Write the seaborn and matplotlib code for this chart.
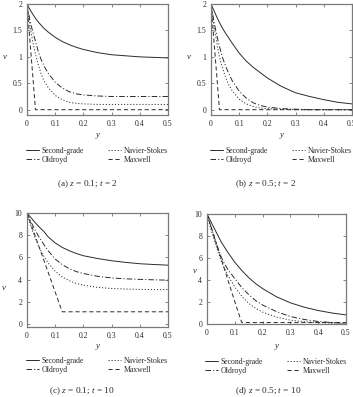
import numpy as np
import pandas as pd
import matplotlib
matplotlib.use('Agg')
import matplotlib.pyplot as plt
import seaborn as sns

# y positions shared by every curve
y_pos = [0, 0.005, 0.01, 0.02, 0.03, 0.04, 0.05, 0.06, 0.075, 0.1,
         0.125, 0.15, 0.175, 0.2, 0.25, 0.3, 0.35, 0.4, 0.45, 0.5]

# (a) z = 0.1; t = 2
a_second = [2.0, 1.95, 1.9, 1.81, 1.73, 1.66, 1.6, 1.54, 1.47, 1.37,
            1.29, 1.23, 1.18, 1.14, 1.08, 1.04, 1.02, 1.0, 0.99, 0.98]
a_oldroyd = [2.0, 1.85, 1.7, 1.48, 1.3, 1.1, 0.95, 0.83, 0.69, 0.52,
             0.41, 0.34, 0.3, 0.28, 0.26, 0.25, 0.25, 0.25, 0.25, 0.25]
a_navier = [2.0, 1.8, 1.6, 1.3, 1.05, 0.85, 0.68, 0.55, 0.42, 0.27,
            0.19, 0.14, 0.12, 0.11, 0.1, 0.1, 0.1, 0.1, 0.1, 0.1]
a_maxwell = [2.0, 1.67, 1.33, 0.67, 0.0, 0.0, 0.0, 0.0, 0.0, 0.0,
             0.0, 0.0, 0.0, 0.0, 0.0, 0.0, 0.0, 0.0, 0.0, 0.0]

# (b) z = 0.5; t = 2
b_second = [2.0, 1.94, 1.88, 1.76, 1.65, 1.55, 1.46, 1.38, 1.26, 1.07,
            0.92, 0.8, 0.7, 0.6, 0.44, 0.32, 0.25, 0.19, 0.14, 0.11]
b_oldroyd = [2.0, 1.85, 1.68, 1.42, 1.2, 1.0, 0.85, 0.72, 0.55, 0.35,
             0.22, 0.13, 0.08, 0.05, 0.02, 0.01, 0.0, 0.0, 0.0, 0.0]
b_navier = [2.0, 1.8, 1.6, 1.28, 1.0, 0.8, 0.64, 0.5, 0.36, 0.2,
            0.11, 0.06, 0.03, 0.02, 0.01, 0.0, 0.0, 0.0, 0.0, 0.0]
b_maxwell = [2.0, 1.67, 1.33, 0.67, 0.0, 0.0, 0.0, 0.0, 0.0, 0.0,
             0.0, 0.0, 0.0, 0.0, 0.0, 0.0, 0.0, 0.0, 0.0, 0.0]

# (c) z = 0.1; t = 10
c_second = [10.0, 9.85, 9.7, 9.4, 9.1, 8.83, 8.57, 8.33, 7.85, 7.3,
            6.9, 6.6, 6.35, 6.15, 5.9, 5.7, 5.55, 5.43, 5.36, 5.3]
c_oldroyd = [10.0, 9.7, 9.4, 8.9, 8.4, 7.95, 7.55, 7.15, 6.6, 5.85,
             5.35, 4.98, 4.72, 4.55, 4.3, 4.15, 4.07, 4.02, 3.98, 3.95]
c_navier = [10.0, 9.55, 9.1, 8.35, 7.7, 7.1, 6.55, 6.1, 5.5, 4.75,
            4.25, 3.9, 3.65, 3.5, 3.3, 3.2, 3.15, 3.12, 3.1, 3.1]
c_maxwell = [10.0, 9.64, 9.29, 8.58, 7.86, 7.15, 6.44, 5.73, 4.66, 2.88,
             1.1, 1.1, 1.1, 1.1, 1.1, 1.1, 1.1, 1.1, 1.1, 1.1]

# (d) z = 0.5; t = 10
d_second = [10.0, 9.75, 9.5, 9.0, 8.5, 8.0, 7.5, 7.1, 6.5, 5.6,
            4.85, 4.2, 3.65, 3.2, 2.45, 1.9, 1.5, 1.2, 0.97, 0.8]
d_oldroyd = [10.0, 9.6, 9.2, 8.4, 7.6, 6.85, 6.15, 5.6, 4.95, 4.1,
             3.3, 2.65, 2.1, 1.7, 1.1, 0.65, 0.38, 0.2, 0.1, 0.05]
d_navier = [10.0, 9.5, 9.0, 8.1, 7.3, 6.5, 5.8, 5.2, 4.4, 3.35,
            2.5, 1.85, 1.4, 1.05, 0.6, 0.32, 0.18, 0.1, 0.05, 0.02]
d_maxwell = [10.0, 9.6, 9.2, 8.4, 7.6, 6.8, 6.0, 5.2, 4.0, 2.0,
             0.1, 0.1, 0.1, 0.1, 0.1, 0.1, 0.1, 0.1, 0.1, 0.1]

series_names = ['Second-grade', 'Oldroyd', 'Navier-Stokes', 'Maxwell']
captions = ['(a) $z$ = 0.1; $t$ = 2', '(b) $z$ = 0.5; $t$ = 2',
            '(c) $z$ = 0.1; $t$ = 10', '(d) $z$ = 0.5; $t$ = 10']
y_ticks_small = [0, 0.5, 1, 1.5, 2]
y_ticks_big = [0, 2, 4, 6, 8, 10]
x_ticks = [0, 0.1, 0.2, 0.3, 0.4, 0.5]

sns.set_style('ticks')
plt.rcParams['font.family'] = ['Liberation Serif', 'DejaVu Serif']
plt.rcParams['mathtext.fontset'] = 'custom'
plt.rcParams['mathtext.rm'] = 'Liberation Serif'
plt.rcParams['mathtext.it'] = 'Liberation Serif:italic'
plt.rcParams['lines.scale_dashes'] = False

W, H = 353, 397
fig = plt.figure(figsize=(W / 100, H / 100), dpi=100)
fig.patch.set_facecolor('white')

ink = '#2b2b2b'
styles = ['-', (0, (4, 1.5, 0.8, 1.5)), (0, (0.8, 1.4)), (0, (3, 2))]
fs = 5.6


def px_rect(left, right, top, bottom):
    return [left / W, 1 - bottom / H, (right - left) / W, (bottom - top) / H]


panels = [
    dict(rect=px_rect(27, 168, 4, 115), data=[a_second, a_oldroyd, a_navier, a_maxwell],
         ylim=(-0.1, 2.0), yt=y_ticks_small, vx=3, vy=57, leg=(26, 147), cap=(87, 184), xl=135),
    dict(rect=px_rect(211, 352, 4, 115), data=[b_second, b_oldroyd, b_navier, b_maxwell],
         ylim=(-0.1, 2.0), yt=y_ticks_small, vx=187, vy=57, leg=(210, 147), cap=(266, 184), xl=135),
    dict(rect=px_rect(27, 168, 213, 327), data=[c_second, c_oldroyd, c_navier, c_maxwell],
         ylim=(-0.27, 10.0), yt=y_ticks_big, vx=2, vy=288, leg=(26, 357), cap=(82, 391), xl=346),
    dict(rect=px_rect(207, 346, 214, 324), data=[d_second, d_oldroyd, d_navier, d_maxwell],
         ylim=(-0.03, 10.0), yt=y_ticks_big, vx=193, vy=271, leg=(205, 358), cap=(268, 391), xl=346),
]

for p, cap in zip(panels, captions):
    ax = fig.add_axes(p['rect'])
    for vals, name, ls in zip(p['data'], series_names, styles):
        df = pd.DataFrame({'y': y_pos, 'v': vals})
        sns.lineplot(data=df, x='y', y='v', ax=ax, color=ink, linewidth=0.7,
                     linestyle=ls, label=name, legend=False)
    ax.set_xlim(0, 0.5)
    ax.set_ylim(*p['ylim'])
    ax.set_xticks(x_ticks)
    ax.set_xticklabels(['0', '0.1', '0.2', '0.3', '0.4', '0.5'])
    ax.set_yticks(p['yt'])
    ax.set_yticklabels([('%g' % t) for t in p['yt']])
    ax.tick_params(direction='in', top=True, right=True, length=2, width=0.5,
                   labelsize=fs, colors='#555555', labelcolor=ink, pad=3.5)
    for sp in ax.spines.values():
        sp.set_color('#7a7a7a')
        sp.set_linewidth(0.9)
    ax.set_xlabel('')
    ax.set_ylabel('')
    x_center = (p['rect'][0] + p['rect'][2] / 2)
    fig.text(x_center, 1 - p['xl'] / H, 'y', style='italic', fontsize=fs + 0.8,
             color=ink, ha='center', va='center')
    fig.text(p['vx'] / W, 1 - p['vy'] / H, 'v', style='italic', fontsize=fs + 0.8,
             color=ink, ha='left', va='center')
    handles, labels = ax.get_legend_handles_labels()
    fig.legend(handles, labels, loc='upper left',
               bbox_to_anchor=(p['leg'][0] / W, 1 - p['leg'][1] / H),
               ncol=2, frameon=False, fontsize=fs, handlelength=1.7,
               handletextpad=0.35, columnspacing=3.0, labelspacing=0.1,
               borderpad=0, borderaxespad=0, labelcolor=ink)
    fig.text(p['cap'][0] / W, 1 - p['cap'][1] / H, cap, fontsize=6.7,
             color=ink, ha='center', va='center')

fig.savefig('out.png', dpi=100, facecolor='white')
